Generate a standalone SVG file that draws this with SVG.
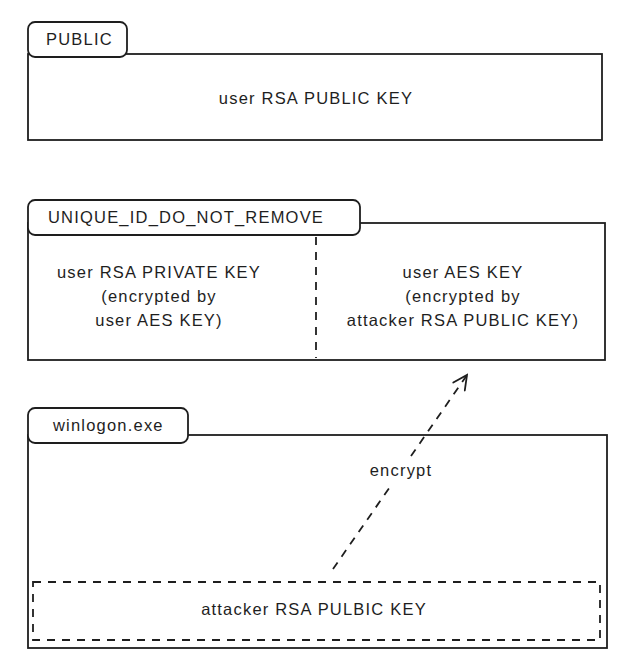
<svg xmlns="http://www.w3.org/2000/svg" width="633" height="667" viewBox="0 0 633 667">
<style>
.box{fill:#fff;stroke:#1e1e1e;stroke-width:1.8}
.tab{fill:#fff;stroke:#1e1e1e;stroke-width:1.8}
.dash{fill:none;stroke:#1e1e1e;stroke-width:1.8;stroke-dasharray:8 7}
text{font-family:"Liberation Sans","DejaVu Sans",sans-serif;font-size:16.5px;letter-spacing:1.2px;fill:#1e1e1e;text-anchor:middle}
.lbl{text-anchor:start}
</style>
<defs>
<marker id="arr" viewBox="0 0 20 20" refX="18" refY="10" markerWidth="20" markerHeight="20" markerUnits="userSpaceOnUse" orient="auto">
<path d="M4 3 L18 10 L4 17" fill="none" stroke="#1e1e1e" stroke-width="1.8" stroke-linecap="round"/>
</marker>
</defs>
<rect width="633" height="667" fill="#fff"/>
<g id="public">
<rect class="box" x="28" y="54" width="574" height="86"/>
<rect class="tab" x="28" y="22" width="99" height="35" rx="7"/>
<text class="lbl" x="46" y="45">PUBLIC</text>
<text x="316" y="104">user RSA PUBLIC KEY</text>
</g>
<g id="unique">
<rect class="box" x="28" y="223" width="577" height="137"/>
<rect class="tab" x="28" y="200" width="332" height="35" rx="7"/>
<text class="lbl" x="48" y="223">UNIQUE_ID_DO_NOT_REMOVE</text>
<line class="dash" x1="316" y1="237" x2="316" y2="358"/>
<text x="159" y="278">user RSA PRIVATE KEY</text>
<text x="159" y="302">(encrypted by</text>
<text x="159" y="326">user AES KEY)</text>
<text x="463" y="278">user AES KEY</text>
<text x="463" y="302">(encrypted by</text>
<text x="463" y="326">attacker RSA PUBLIC KEY)</text>
</g>
<g id="winlogon">
<rect class="box" x="28" y="435" width="579" height="213"/>
<rect class="tab" x="28" y="408" width="160" height="35" rx="7"/>
<text class="lbl" x="53" y="431">winlogon.exe</text>
</g>
<g id="attacker-key">
<rect class="dash" x="33" y="582" width="567" height="58"/>
<text x="314" y="615">attacker RSA PULBIC KEY</text>
</g>
<g id="connectors">
<line class="dash" x1="333" y1="569" x2="392" y2="484"/>
<line class="dash" x1="411" y1="456" x2="467" y2="375" marker-end="url(#arr)"/>
<text x="401" y="476">encrypt</text>
</g>
</svg>
